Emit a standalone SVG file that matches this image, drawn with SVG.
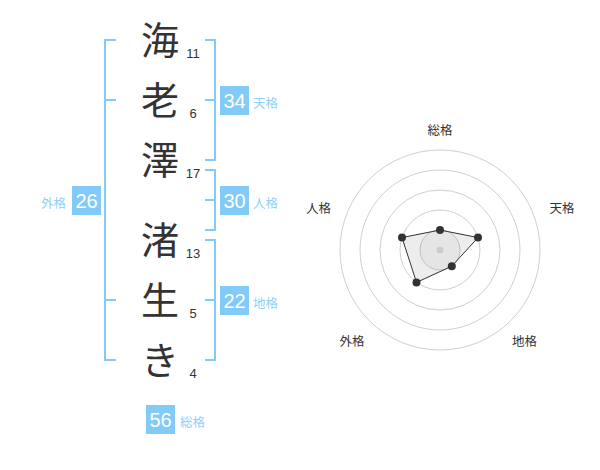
<svg xmlns="http://www.w3.org/2000/svg" width="600" height="470" viewBox="0 0 600 470">
<style>
.ch{font-family:"Noto Sans CJK JP","Noto Sans",sans-serif;font-size:38px;fill:#333;text-anchor:middle}
.num{font-family:"Liberation Sans",Arial,sans-serif;font-size:13px;fill:#333;text-anchor:middle}
.br{fill:none;stroke:#82cbf8;stroke-width:2}
.box{fill:#82cbf8}
.bt{font-family:"Liberation Sans",Arial,sans-serif;font-size:20px;fill:#fff;text-anchor:middle}
.lb{font-family:"Noto Sans CJK JP",sans-serif;font-size:12.5px;fill:#8dd0f8}
.ring{fill:none;stroke:#cfcfcf;stroke-width:1}
.rl{font-family:"Noto Sans CJK JP",sans-serif;font-size:12.5px;fill:#333;text-anchor:middle}
.pt{fill:#333}
</style>
<rect width="600" height="470" fill="#fff"/>
<g id="chars">
<g id="c1"><text class="ch" x="160" y="54">海</text><text class="num" x="193" y="58">11</text></g>
<g id="c2"><text class="ch" x="160" y="114">老</text><text class="num" x="193" y="118">6</text></g>
<g id="c3"><text class="ch" x="160" y="174">澤</text><text class="num" x="193" y="178">17</text></g>
<g id="c4"><text class="ch" x="160" y="254">渚</text><text class="num" x="193" y="258">13</text></g>
<g id="c5"><text class="ch" x="160" y="314">生</text><text class="num" x="193" y="318">5</text></g>
<g id="c6"><text class="ch" x="160" y="374">き</text><text class="num" x="193" y="378">4</text></g>
</g>
<g id="connectors">
<path class="br" d="M116,40 H105 V360 H116 M105,100 H116 M105,300 H116"/>
<path class="br" d="M205,40 H215 V160 H205 M215,100 H205"/>
<path class="br" d="M205,170 H215 V230 H205 M215,200 H205"/>
<path class="br" d="M205,240 H215 V360 H205 M215,300 H205"/>
</g>
<g id="tenkaku"><rect class="box" x="220" y="86" width="29" height="29"/><text class="bt" x="234.5" y="108">34</text><text class="lb" x="253" y="108">天格</text></g>
<g id="jinkaku"><rect class="box" x="220" y="186" width="29" height="29"/><text class="bt" x="234.5" y="208">30</text><text class="lb" x="253" y="208">人格</text></g>
<g id="chikaku"><rect class="box" x="220" y="286" width="29" height="29"/><text class="bt" x="234.5" y="308">22</text><text class="lb" x="253" y="308">地格</text></g>
<g id="gaikaku"><rect class="box" x="72" y="186" width="29" height="29"/><text class="bt" x="86.5" y="208">26</text><text class="lb" x="41" y="208">外格</text></g>
<g id="soukaku"><rect class="box" x="146" y="405" width="29" height="29"/><text class="bt" x="160.5" y="427">56</text><text class="lb" x="180" y="427">総格</text></g>
<g id="radar">
<circle class="ring" cx="440" cy="250" r="100"/>
<circle class="ring" cx="440" cy="250" r="80"/>
<circle class="ring" cx="440" cy="250" r="60"/>
<circle class="ring" cx="440" cy="250" r="40"/>
<circle cx="440" cy="250" r="20" fill="#000" fill-opacity="0.03" stroke="#cfcfcf"/>
<polygon points="440,230 478,237.6 451.8,266.2 416.5,282.4 402,237.6" fill="#000" fill-opacity="0.07" stroke="#333" stroke-width="1"/>
<circle cx="440" cy="250" r="3.5" fill="#ccc"/>
<circle class="pt" cx="440" cy="230" r="4"/>
<circle class="pt" cx="478" cy="237.6" r="4"/>
<circle class="pt" cx="451.8" cy="266.2" r="4"/>
<circle class="pt" cx="416.5" cy="282.4" r="4"/>
<circle class="pt" cx="402" cy="237.6" r="4"/>
<text class="rl" x="440" y="135">総格</text>
<text class="rl" x="562" y="213">天格</text>
<text class="rl" x="524.5" y="346">地格</text>
<text class="rl" x="352" y="346">外格</text>
<text class="rl" x="318.5" y="213">人格</text>
</g>
</svg>
